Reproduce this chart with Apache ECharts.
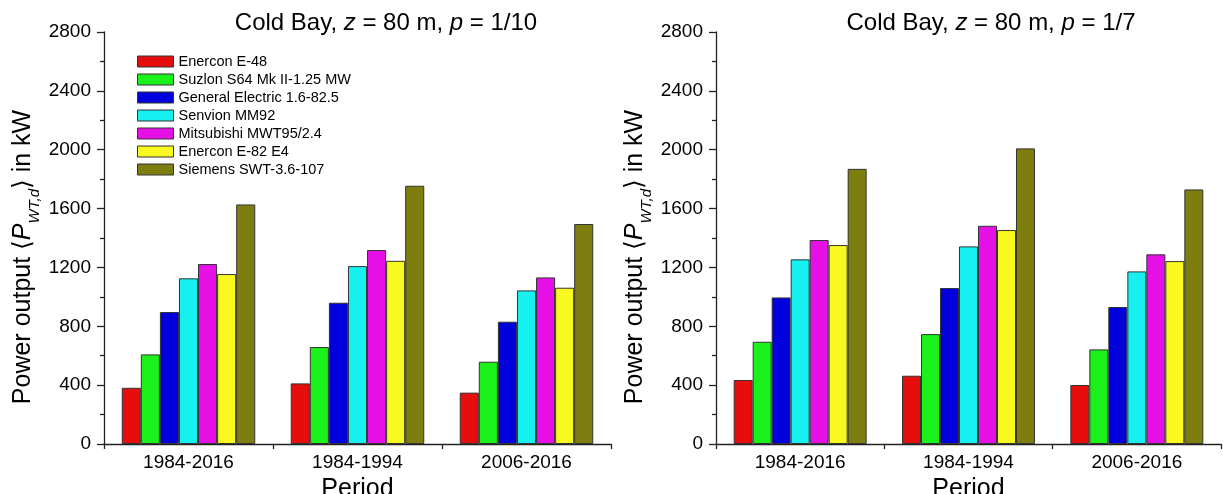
<!DOCTYPE html>
<html>
<head>
<meta charset="utf-8">
<script src="https://cdn.jsdelivr.net/npm/echarts@6/dist/echarts.min.js"></script>
<style>
html,body{margin:0;padding:0;background:#fff;}
#c{width:1223px;height:494px;}
</style>
</head>
<body>
<div id="c"></div>
<script>
const categories = ['1984-2016', '1984-1994', '2006-2016'];
const turbines = ['Enercon E-48', 'Suzlon S64 Mk II-1.25 MW', 'General Electric 1.6-82.5', 'Senvion MM92', 'Mitsubishi MWT95/2.4', 'Enercon E-82 E4', 'Siemens SWT-3.6-107'];
const colors = ['#E60D0D', '#1AF01A', '#0000DD', '#17F0F0', '#E60FE6', '#F9F921', '#7D7D10'];
// p = 1/10 (left); one array per turbine, values per period
const left_E48 = [382, 412, 349];
const left_S64 = [609, 659, 559];
const left_GE = [897, 960, 831];
const left_MM92 = [1126, 1209, 1044];
const left_MWT = [1223, 1318, 1132];
const left_E82 = [1155, 1245, 1062];
const left_SWT = [1628, 1755, 1495];
// p = 1/7 (right)
const right_E48 = [435, 464, 401];
const right_S64 = [695, 747, 643];
const right_GE = [996, 1060, 931];
const right_MM92 = [1255, 1343, 1173];
const right_MWT = [1386, 1483, 1289];
const right_E82 = [1352, 1454, 1243];
const right_SWT = [1870, 2009, 1730];
const yTicks = { min: 0, max: 2800, interval: 400 };

const leftData = [left_E48, left_S64, left_GE, left_MM92, left_MWT, left_E82, left_SWT];
const rightData = [right_E48, right_S64, right_GE, right_MM92, right_MWT, right_E82, right_SWT];

const FONT = '"Liberation Sans", Arial, "DejaVu Sans", sans-serif';
const AX = '#222';

function titleOpt(x, pval) {
  return {
    text: '{n|Cold Bay, }{i|z}{n| = 80 m, }{i|p}{n| = ' + pval + '}',
    left: x, top: 6, textAlign: 'center',
    textStyle: {
      fontFamily: FONT, fontSize: 24, fontWeight: 'normal', color: '#000',
      rich: {
        n: { fontFamily: FONT, fontSize: 24, color: '#000' },
        i: { fontFamily: FONT, fontSize: 24, fontStyle: 'italic', color: '#000' }
      }
    }
  };
}

function xAxisOpt(gi) {
  return {
    type: 'category', gridIndex: gi, data: categories,
    boundaryGap: true,
    axisLine: { show: true, lineStyle: { color: AX, width: 1.3 } },
    axisTick: { show: true, length: 5, lineStyle: { color: AX, width: 1.3 } },
    axisLabel: { fontFamily: FONT, fontSize: 19, color: '#000', margin: 9 },
    name: 'Period', nameLocation: 'middle', nameGap: 24,
    nameTextStyle: { fontFamily: FONT, fontSize: 25, color: '#000' }
  };
}

function yAxisOpt(gi) {
  return {
    type: 'value', gridIndex: gi, min: yTicks.min, max: yTicks.max, interval: yTicks.interval,
    axisLine: { show: true, lineStyle: { color: AX, width: 1.3 } },
    axisTick: { show: true, length: 7, lineStyle: { color: AX, width: 1.3 } },
    minorTick: { show: true, splitNumber: 2, length: 4, lineStyle: { color: AX, width: 1.3 } },
    splitLine: { show: false },
    axisLabel: { fontFamily: FONT, fontSize: 19, color: '#000', margin: 13, formatter: v => String(v) },
    name: '{n|Power output \u27E8}{i|P}{s|WT,d}{n|\u27E9 in kW}',
    nameLocation: 'middle', nameRotate: 90, nameGap: 68,
    nameTextStyle: {
      fontFamily: FONT, fontSize: 25, color: '#000', padding: [0, 38, 0, 0],
      rich: {
        n: { fontFamily: FONT, fontSize: 25, color: '#000', verticalAlign: 'bottom', lineHeight: 30 },
        i: { fontFamily: FONT, fontSize: 25, fontStyle: 'italic', color: '#000', verticalAlign: 'bottom', lineHeight: 30 },
        s: { fontFamily: FONT, fontSize: 15, fontStyle: 'italic', color: '#000', verticalAlign: 'bottom', lineHeight: 14, padding: [0, 0, -6, 0] }
      }
    }
  };
}

const series = [];
[leftData, rightData].forEach((set, gi) => {
  set.forEach((vals, k) => {
    series.push({
      type: 'bar', name: turbines[k], xAxisIndex: gi, yAxisIndex: gi,
      data: vals, barGap: '0%', barCategoryGap: '21%',
      itemStyle: { color: colors[k], borderColor: '#333', borderWidth: 1 },
      emphasis: { disabled: true }
    });
  });
});

const chart = echarts.init(document.getElementById('c'), null, { renderer: 'canvas' });
chart.setOption({
  animation: false,
  backgroundColor: '#fff',
  color: colors,
  title: [titleOpt(381, '1/10'), titleOpt(986, '1/7')],
  legend: {
    data: turbines, orient: 'vertical', left: 137, top: 54, padding: 0,
    icon: 'rect',
    itemWidth: 36, itemHeight: 11, itemGap: 3,
    textStyle: { fontFamily: FONT, fontSize: 14.5, color: '#000' },
    itemStyle: { borderColor: '#333', borderWidth: 1 },
    selectedMode: false
  },
  grid: [
    { left: 104, top: 32, width: 507, height: 412, containLabel: false, outerBoundsMode: 'none' },
    { left: 716, top: 32, width: 505, height: 412, containLabel: false, outerBoundsMode: 'none' }
  ],
  xAxis: [xAxisOpt(0), xAxisOpt(1)],
  yAxis: [yAxisOpt(0), yAxisOpt(1)],
  series: series
});
</script>
</body>
</html>
